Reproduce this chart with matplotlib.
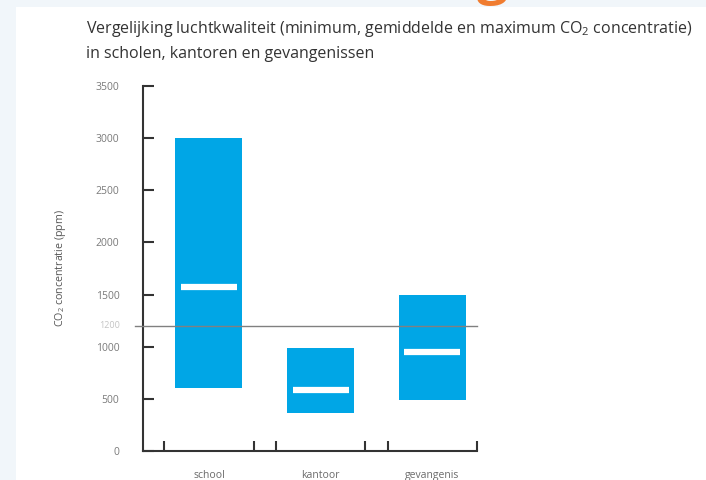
#!/usr/bin/env python3
import matplotlib
matplotlib.use('Agg')
import matplotlib.pyplot as plt
from matplotlib.patches import Rectangle

plt.rcParams['font.family'] = ['Open Sans', 'DejaVu Sans']
plt.rcParams['mathtext.default'] = 'regular'

# data (ppm)
categories = ['school', 'kantoor', 'gevangenis']
co2_min = [600, 360, 490]
co2_mean = [1570, 585, 945]
co2_max = [3000, 985, 1500]
limit = 1200
yticks = [0, 500, 1000, 1500, 2000, 2500, 3000, 3500]

W, H = 706, 480
fig = plt.figure(figsize=(W / 100, H / 100), dpi=100, facecolor='#f1f6fa')

# white panel over the light page background
fig.patches.append(Rectangle((16 / W, 0), 1, 1 - 7 / H, transform=fig.transFigure,
                             facecolor='white', edgecolor='none', zorder=1))
# bit of an orange heading peeking in at the top edge
fig.text(493 / W, 1 + 7 / H, 'g', color='#f07c30', fontsize=40, fontweight='bold',
         ha='center', va='baseline', zorder=0.5)

ax = fig.add_axes([143 / W, 1 - 451 / H, 334 / W, 365 / H])
ax.set_zorder(2)
ax.patch.set_alpha(0)

x = range(len(categories))
heights = [hi - lo for lo, hi in zip(co2_min, co2_max)]
ax.bar(x, heights, bottom=co2_min, width=0.6, color='#00a6e6', zorder=2)
for xi, m in zip(x, co2_mean):
    ax.hlines(m, xi - 0.25, xi + 0.25, color='white', linewidth=4.5, zorder=3)

ax.axhline(limit, xmin=-0.024, xmax=1, color='#808080', linewidth=1, clip_on=False, zorder=4)
ax.text(-0.80, limit, str(limit), color='#c4c4c4', fontsize=6.5, ha='right', va='center')

ax.set_xlim(-0.59, 2.4)
ax.set_ylim(0, 3500)

for s in ['top', 'right']:
    ax.spines[s].set_visible(False)
for s in ['left', 'bottom']:
    ax.spines[s].set_color('#333333')
    ax.spines[s].set_linewidth(1.5)

ax.set_yticks(yticks)
ax.set_yticklabels([str(v) for v in yticks])
ax.tick_params(axis='y', direction='in', length=8, width=1.5, color='#333333',
               pad=17, labelsize=7.5, labelcolor='#7a7a7a')

edges = []
for xi in x:
    edges += [xi - 0.4, xi + 0.4]
ax.set_xticks(edges)
ax.set_xticklabels([''] * len(edges))
ax.tick_params(axis='x', which='major', direction='in', length=7, width=1.5, color='#333333')
ax.set_xticks(list(x), minor=True)
ax.set_xticklabels(categories, minor=True)
ax.tick_params(axis='x', which='minor', length=0, pad=14, labelsize=7.5, labelcolor='#6a6a6a')

fig.text(60 / W, 1 - 268 / H, 'CO$_2$ concentratie (ppm)', rotation=90, fontsize=7.7,
         color='#555555', ha='center', va='center')

fig.text(86 / W, 1 - 29 / H,
         'Vergelijking luchtkwaliteit (minimum, gemiddelde en maximum CO$_2$ concentratie)',
         fontsize=11.5, color='#333333', ha='left', va='center')
fig.text(86 / W, 1 - 54 / H, 'in scholen, kantoren en gevangenissen',
         fontsize=11.5, color='#333333', ha='left', va='center')

fig.savefig('out.png', dpi=100, facecolor=fig.get_facecolor())
